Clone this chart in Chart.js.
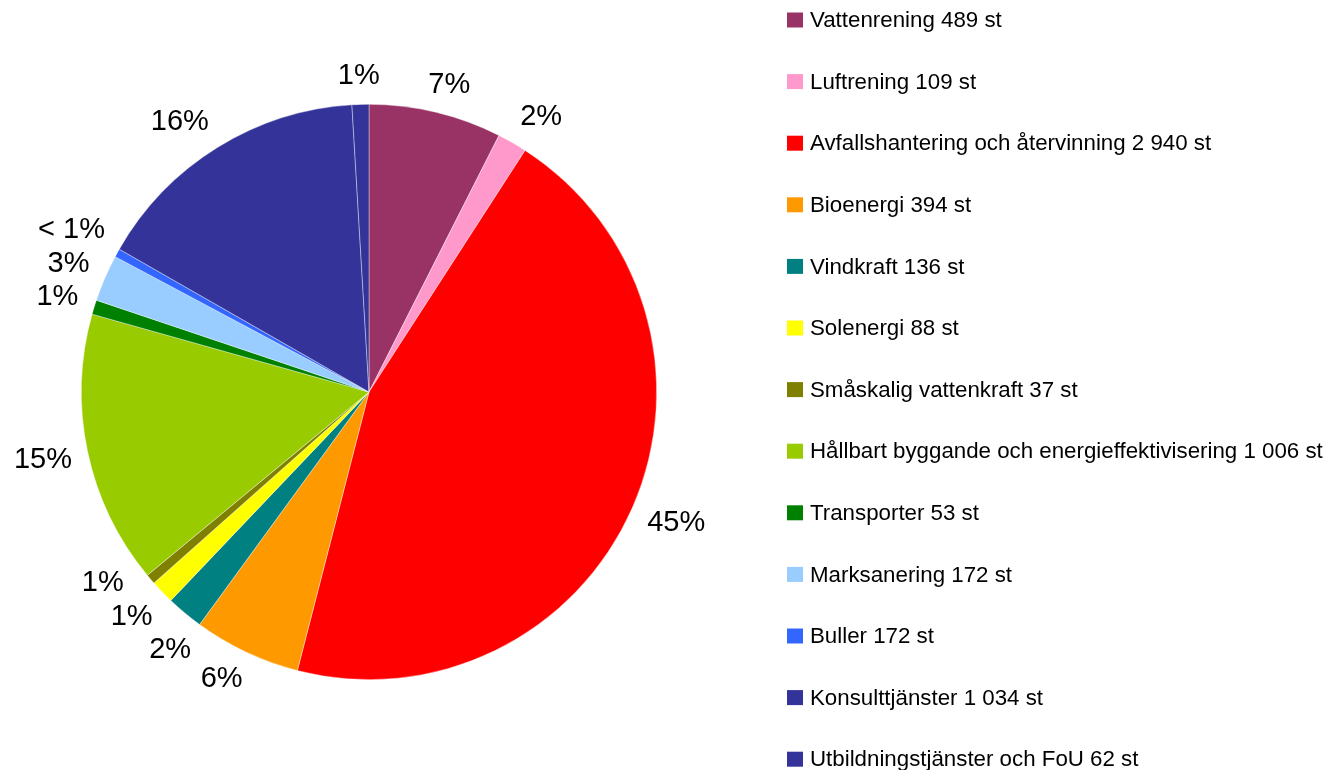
<!DOCTYPE html>
<html>
<head>
<meta charset="utf-8">
<script src="https://cdn.jsdelivr.net/npm/chart.js@4"></script>
<style>
  html, body { margin: 0; padding: 0; background: #fff; }
  #wrap { width: 1329px; height: 770px; }
</style>
</head>
<body>
<div id="wrap"><canvas id="pie" width="1329" height="770"></canvas></div>
<script>
// categories, as named in the legend
const categories = [
  "Vattenrening", "Luftrening", "Avfallshantering och återvinning", "Bioenergi",
  "Vindkraft", "Solenergi", "Småskalig vattenkraft",
  "Hållbart byggande och energieffektivisering", "Transporter", "Marksanering",
  "Buller", "Konsulttjänster", "Utbildningstjänster och FoU"
];
// counts as printed in the legend
const legendCounts = ["489", "109", "2 940", "394", "136", "88", "37", "1 006", "53", "172", "172", "1 034", "62"];
// slice sizes as drawn (Buller's slice is clearly < 1 %, not 172)
const sliceValues = [489, 109, 2940, 394, 136, 88, 37, 1006, 53, 172, 31, 1034, 62];
const sliceColors = [
  "#993366", "#FF99CC", "#FF0000", "#FF9900", "#008080", "#FFFF00", "#808000",
  "#99CC00", "#008000", "#99CCFF", "#3366FF", "#333399", "#333399"
];

const FONT = '"Liberation Sans", Arial, sans-serif';

const pctLabels = {
  id: "pctLabels",
  afterDraw(chart) {
    const ctx = chart.ctx;
    const arcs = chart.getDatasetMeta(0).data;
    const total = sliceValues.reduce((a, b) => a + b, 0);
    ctx.save();
    ctx.font = "29px " + FONT;
    const items = arcs.map((arc, i) => {
      const p = Math.round(sliceValues[i] / total * 100);
      const text = p < 1 ? "< 1%" : p + "%";
      return { text, a: (arc.startAngle + arc.endAngle) / 2, w: ctx.measureText(text).width, h: 24 };
    });
    const cx = arcs[0].x, cy = arcs[0].y, R = arcs[0].outerRadius + 16;
    const clamp = v => Math.max(-1, Math.min(1, v));
    // anchor just outside the rim, box pushed outwards from it
    const pos = it => {
      const dx = Math.cos(it.a), dy = Math.sin(it.a);
      return {
        x: cx + R * dx + it.w / 2 * clamp(dx * 2),
        y: cy + R * dy + it.h / 2 * clamp(dy * 2)
      };
    };
    const overlap = (a, b) => {
      const p = pos(a), q = pos(b);
      return Math.abs(p.x - q.x) < (a.w + b.w) / 2 + 4 && Math.abs(p.y - q.y) < (a.h + b.h) / 2 + 9;
    };
    // push neighbouring labels apart along the circle
    for (let k = 0; k < 500; k++) {
      let moved = false;
      for (let i = 0; i < items.length - 1; i++) {
        if (overlap(items[i], items[i + 1])) {
          items[i].a -= 0.003;
          items[i + 1].a += 0.003;
          moved = true;
        }
      }
      if (!moved) break;
    }
    ctx.fillStyle = "#000";
    ctx.textAlign = "center";
    ctx.textBaseline = "middle";
    items.forEach(it => {
      const p = pos(it);
      ctx.fillText(it.text, p.x, p.y);
    });
    ctx.restore();
  }
};

const sideLegend = {
  id: "sideLegend",
  afterDraw(chart) {
    const ctx = chart.ctx;
    ctx.save();
    ctx.font = "22.3px " + FONT;
    ctx.textBaseline = "middle";
    ctx.textAlign = "left";
    categories.forEach((name, i) => {
      const y = 20 + i * 61.6;
      ctx.fillStyle = sliceColors[i];
      ctx.fillRect(787, y - 7.5, 16, 15);
      ctx.fillStyle = "#000";
      ctx.fillText(name + " " + legendCounts[i] + " st", 810, y + 1);
    });
    ctx.restore();
  }
};

new Chart(document.getElementById("pie"), {
  type: "pie",
  data: {
    labels: categories,
    datasets: [{
      data: sliceValues,
      backgroundColor: sliceColors,
      borderColor: "rgba(255,255,255,0.55)",
      borderWidth: 0.7
    }]
  },
  options: {
    responsive: false,
    animation: false,
    events: [],
    layout: { padding: { left: 81, right: 672, top: 104, bottom: 90 } },
    plugins: {
      legend: { display: false },
      tooltip: { enabled: false }
    }
  },
  plugins: [pctLabels, sideLegend]
});
</script>
</body>
</html>
